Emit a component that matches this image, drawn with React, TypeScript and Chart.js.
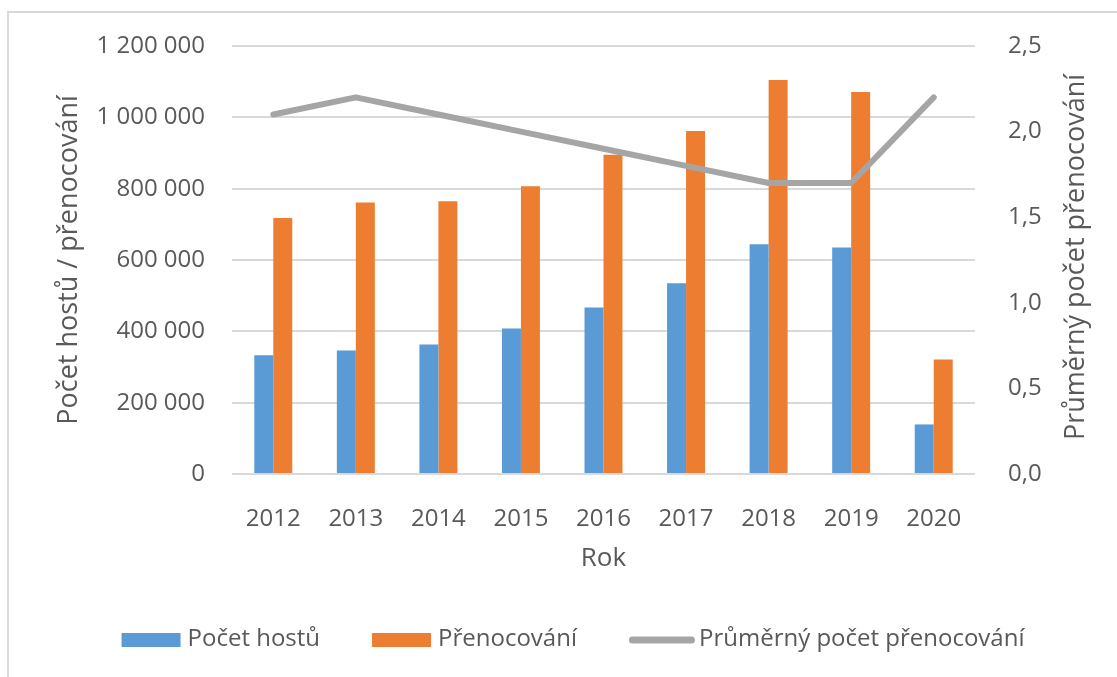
import React, { useEffect, useRef } from "react";
import { Chart, registerables } from "chart.js";

Chart.register(...registerables);

const years = ["2012", "2013", "2014", "2015", "2016", "2017", "2018", "2019", "2020"];
const guests = [333000, 346000, 363000, 408000, 467000, 535000, 644000, 635000, 139000];
const overnights = [718000, 761000, 765000, 807000, 895000, 962000, 1105000, 1071000, 321000];
const avgStay = [2.1, 2.2, 2.1, 2.0, 1.9, 1.8, 1.7, 1.7, 2.2];

const seriesLabels = ["Počet hostů", "Přenocování", "Průměrný počet přenocování"];
const leftTitle = "Počet hostů / přenocování";
const rightTitle = "Průměrný počet přenocování";
const xTitle = "Rok";

const FONT = "'Open Sans', sans-serif";
const TEXT = "#595959";
const GRID = "#d9d9d9";
const BLUE = "#5b9bd5";
const ORANGE = "#ed7d31";
const GRAY = "#a5a5a5";

const fmtThousands = (v: number) =>
  String(Math.round(v)).replace(/\B(?=(\d{3})+(?!\d))/g, " ");
const fmtDecimal = (v: number) => Number(v).toFixed(1).replace(".", ",");

const rightTitlePlugin = {
  id: "rightTitle",
  afterDraw(chart: any) {
    const { ctx, chartArea } = chart;
    ctx.save();
    ctx.font = `27px ${FONT}`;
    ctx.fillStyle = TEXT;
    ctx.textAlign = "center";
    ctx.textBaseline = "middle";
    ctx.translate(1067, (chartArea.top + chartArea.bottom) / 2 - 3);
    ctx.rotate(-Math.PI / 2);
    ctx.fillText(rightTitle, 0, 0);
    ctx.restore();
  },
};

const legendPlugin = {
  id: "customLegend",
  afterDraw(chart: any) {
    const ctx = chart.ctx;
    ctx.save();
    ctx.font = `24px ${FONT}`;
    ctx.textBaseline = "middle";
    ctx.textAlign = "left";
    const boxW = 59;
    const boxH = 14;
    const lineW = 66;
    const items = chart.data.datasets.map((ds: any) => {
      const isLine = ds.type === "line";
      const tw = ctx.measureText(ds.label).width;
      const markW = isLine ? lineW : boxW;
      const gap = isLine ? 4 : 7;
      return { ds, isLine, tw, markW, gap, w: markW + gap + tw };
    });
    const itemGap = 52;
    const total = items.reduce((s: number, it: any) => s + it.w, 0) + itemGap * (items.length - 1);
    let x = 564 - total / 2;
    const cy = 627;
    items.forEach((it: any) => {
      if (it.isLine) {
        ctx.strokeStyle = it.ds.borderColor;
        ctx.lineWidth = 7;
        ctx.lineCap = "round";
        ctx.beginPath();
        ctx.moveTo(x + 3.5, cy);
        ctx.lineTo(x + it.markW - 3.5, cy);
        ctx.stroke();
      } else {
        ctx.fillStyle = it.ds.backgroundColor;
        ctx.fillRect(x, cy - boxH / 2, it.markW, boxH);
      }
      ctx.fillStyle = TEXT;
      ctx.fillText(it.ds.label, x + it.markW + it.gap, cy - 1);
      x += it.w + itemGap;
    });
    ctx.restore();
  },
};

export default function App() {
  const ref = useRef<HTMLCanvasElement | null>(null);

  useEffect(() => {
    if (!ref.current) return;
    const chart = new Chart(ref.current, {
      type: "bar",
      data: {
        labels: years,
        datasets: [
          {
            type: "bar",
            label: seriesLabels[0],
            data: guests,
            backgroundColor: BLUE,
            yAxisID: "y",
            order: 0,
          },
          {
            type: "bar",
            label: seriesLabels[1],
            data: overnights,
            backgroundColor: ORANGE,
            yAxisID: "y",
            order: 0,
          },
          {
            type: "line",
            label: seriesLabels[2],
            data: avgStay,
            borderColor: GRAY,
            backgroundColor: GRAY,
            borderWidth: 6,
            pointRadius: 0,
            pointHoverRadius: 0,
            tension: 0,
            borderCapStyle: "round",
            borderJoinStyle: "round",
            yAxisID: "y1",
            order: -1,
          } as any,
        ],
      },
      options: {
        responsive: false,
        maintainAspectRatio: false,
        animation: false,
        devicePixelRatio: 1,
        layout: { padding: { top: 33, left: 0, right: 0, bottom: 84 } },
        datasets: {
          bar: { categoryPercentage: 0.46, barPercentage: 1 },
        },
        plugins: {
          legend: { display: false },
          tooltip: { enabled: false },
        },
        scales: {
          x: {
            grid: { display: false },
            border: { display: false },
            ticks: {
              color: TEXT,
              font: { family: FONT, size: 24 },
              padding: 23,
              maxRotation: 0,
              autoSkip: false,
            },
            title: {
              display: true,
              text: xTitle,
              color: TEXT,
              font: { family: FONT, size: 26 },
              padding: { top: 0, bottom: 19 },
            },
            afterFit: (s: any) => {
              s.height = 119;
              s.paddingLeft = 0;
              s.paddingRight = 0;
            },
          },
          y: {
            position: "left",
            min: 0,
            max: 1200000,
            grid: { color: GRID, lineWidth: 2, drawTicks: false },
            border: { display: false },
            ticks: {
              stepSize: 200000,
              color: TEXT,
              font: { family: FONT, size: 24 },
              padding: 27,
              callback: (v: any) => fmtThousands(Number(v)),
            },
            title: {
              display: true,
              text: leftTitle,
              color: TEXT,
              font: { family: FONT, size: 27 },
              padding: { top: 44, bottom: 0 },
            },
            afterFit: (s: any) => {
              s.width = 223;
              s.paddingTop = 0;
              s.paddingBottom = 0;
            },
          },
          y1: {
            position: "right",
            min: 0,
            max: 2.5,
            grid: { display: false, drawTicks: false },
            border: { display: false },
            ticks: {
              stepSize: 0.5,
              color: TEXT,
              font: { family: FONT, size: 24 },
              padding: 33,
              callback: (v: any) => fmtDecimal(Number(v)),
            },
            title: { display: false },
            afterFit: (s: any) => {
              s.width = 142;
              s.paddingTop = 0;
              s.paddingBottom = 0;
            },
          },
        },
      } as any,
      plugins: [rightTitlePlugin, legendPlugin],
    });
    return () => chart.destroy();
  }, []);

  return (
    <div
      style={{
        position: "fixed",
        left: 7,
        top: 11,
        width: 1110,
        height: 666,
        boxSizing: "border-box",
        borderLeft: `2px solid ${GRID}`,
        borderTop: `2px solid ${GRID}`,
        background: "#fff",
      }}
    >
      <canvas ref={ref} width={1108} height={664} style={{ display: "block" }} />
    </div>
  );
}
